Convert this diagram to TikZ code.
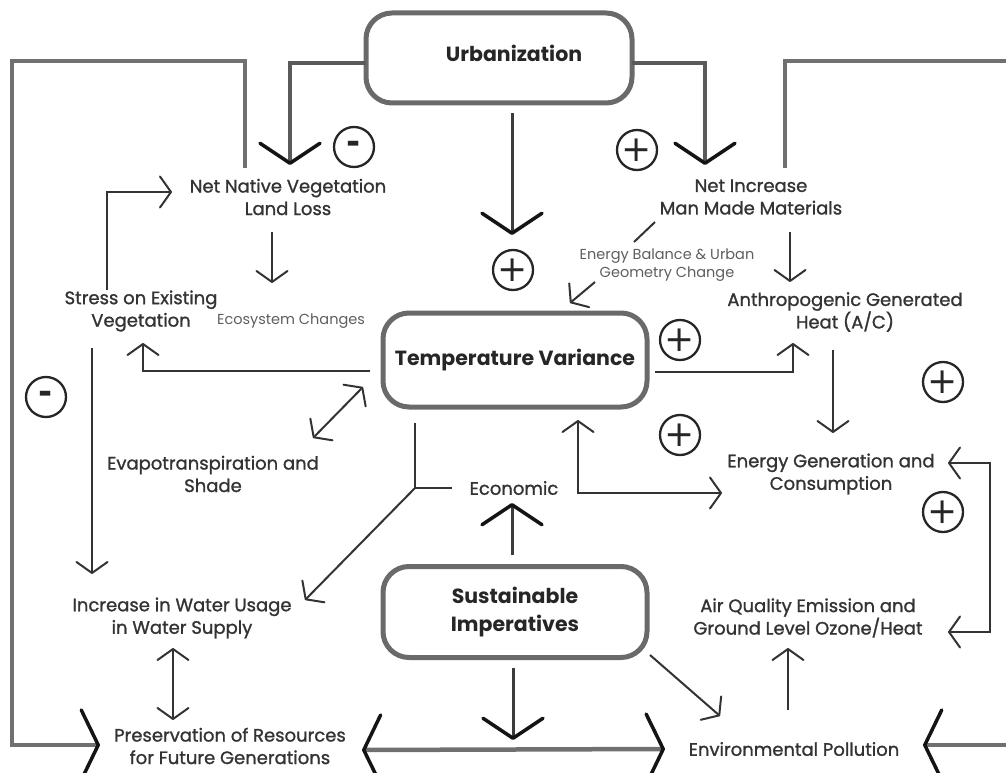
\documentclass[tikz,border=0pt]{standalone}
\usepackage{fontspec}
\setmainfont{Poppins}
\newfontfamily\bodyfont{Poppins}[FakeBold=1.2]
\newfontfamily\signfont{DejaVu Sans}
\usetikzlibrary{arrows.meta,calc}

\definecolor{ink}{HTML}{333333}
\definecolor{softink}{HTML}{5E5E5E}
\definecolor{boxgray}{HTML}{6A6A6A}
\definecolor{loopgray}{HTML}{707070}
\definecolor{urbgray}{HTML}{5A5A5A}
\definecolor{stemgray}{HTML}{3C3C3C}

\tikzset{
  bigV/.tip={Straight Barb[length=20pt,width=60pt,line width=3.5pt,round,color=black!92]},
  bigSide/.tip={Straight Barb[length=17pt,width=70pt,line width=3.5pt,round,color=black!92]},
  sV/.tip={Straight Barb[length=11pt,width=31pt,line width=2pt,round]},
  txt/.style={text=ink, font=\bodyfont\fontsize{18}{22.5}\selectfont, align=center, inner sep=0pt},
  small/.style={text=softink, font=\fontsize{14.5}{18}\selectfont, align=center, inner sep=0pt},
  hub/.style={draw=boxgray, line width=5pt, rounded corners=26pt, outer sep=0pt,
              font=\bfseries\fontsize{20.5}{28}\selectfont, text=black!85, align=center},
  sign/.style={circle, draw=black!85, line width=2.3pt, minimum size=40pt, inner sep=0pt,
               font=\signfont\fontsize{36}{36}\selectfont, text=black!85},
  negsign/.style={sign, font=\signfont\bfseries\fontsize{34}{34}\selectfont},
  loopline/.style={draw=loopgray, line width=4.5pt},
  urbline/.style={draw=urbgray, line width=3.5pt},
  stemline/.style={draw=stemgray, line width=3pt},
  flow/.style={draw=ink, line width=2pt},
}

\begin{document}
\begin{tikzpicture}[x=1pt, y=-1pt]
\useasboundingbox (0,0) rectangle (1006,773);
\clip (0,0) rectangle (1006,773);

% central hubs
\node[hub, minimum width=266pt, minimum height=90pt] (urb) at (499,58) {\hspace*{30pt}\raisebox{10pt}{Urbanization}};
\node[hub, minimum width=264pt, minimum height=94pt] (temp) at (515,360) {Temperature Variance};
\node[hub, minimum width=264pt, minimum height=91pt] (sust) at (515,612) {Sustainable\\Imperatives};

% factors
\node[txt] (nnv) at (288,197) {Net Native Vegetation\\Land Loss};
\node[txt] (nim) at (751,197) {Net Increase\\Man Made Materials};
\node[txt] (stress) at (141,311) {Stress on Existing\\Vegetation};
\node[small] (eco) at (291,321) {Ecosystem Changes};
\node[small] (ebal) at (667,265) {Energy Balance \& Urban\\Geometry Change};
\node[txt] (anth) at (845,312) {Anthropogenic Generated\\Heat (A/C)};
\node[txt] (evap) at (213,474) {Evapotranspiration and\\Shade};
\node[txt] (econ) at (514,488) {Economic};
\node[txt] (energy) at (831,474) {Energy Generation and\\Consumption};
\node[txt] (water) at (182,618) {Increase in Water Usage\\in Water Supply};
\node[txt] (air) at (808,618) {Air Quality Emission and\\Ground Level Ozone/Heat};
\node[txt] (pres) at (230,746) {Preservation of Resources\\for Future Generations};
\node[txt] (poll) at (794,749) {Environmental Pollution};

% polarity signs
\node[negsign] (m1) at (354,147) {-};
\node[negsign] (m2) at (46,397) {-};
\node[sign] (p1) at (513,270) {+};
\node[sign] (p2) at (637,150) {+};
\node[sign] (p3) at (680,340) {+};
\node[sign] (p4) at (680,435) {+};
\node[sign] (p5) at (943,382) {+};
\node[sign] (p6) at (943,512) {+};

% routing points
\coordinate (ltc) at (12,61);
\coordinate (rtc) at (1030,61);
\coordinate (rail) at (990,0);
\coordinate (jct) at ($(temp)+(-100,128)$);
\coordinate (eIn) at ($(energy)+(117,-11)$);
\coordinate (aIn) at ($(air)+(140,14)$);

% outer feedback loops and the base line
\draw[loopline, -bigSide] ($(nnv)+(-43,-29)$) |- (ltc) |- ($(pres)+(-130,-1)$);
\draw[loopline, -bigSide] ($(nim)+(34,-29)$) |- (rtc) |- ($(poll)+(129,-4)$);
\draw[loopline, bigSide-bigSide] ($(pres)+(132,4)$) -- ($(poll)+(-129,0)$);

% urbanization drivers
\draw[urbline, -bigV] ($(urb.west)+(0,5)$) -| ($(nnv)+(2,-32)$);
\draw[urbline, -bigV] ($(urb.east)+(0,5)$) -| ($(nim)+(-46,-32)$);
\draw[stemline, -bigV] ($(urb.south)+(13,10)$) -- ($(temp.north)+(-3,-78)$);

% sustainable imperatives
\draw[stemline, -bigV] ($(sust.north)+(-3,-12)$) -- ($(econ)+(-2,15)$);
\draw[stemline, -bigV] ($(sust.south)+(-2,10)$) -- ($(pres)+(283,-6)$);

% cause and effect links
\draw[flow, -sV] ($(stress)+(-34,-21)$) |- ($(nnv)+(-116,-5)$);
\draw[flow, -sV] ($(nnv)+(-16,35)$) -- ($(eco)+(-19,-38)$);
\draw[flow, -sV] ($(temp.west)+(-13,11)$) -| ($(stress)+(2,32)$);
\draw[flow, sV-sV] ($(temp)+(-152,27)$) -- ($(evap)+(100,-36)$);
\draw[flow] ($(temp)+(-100,63)$) -- (jct) -- ($(econ)+(-62,0)$);
\draw[flow, -sV] (jct) -- ($(water)+(123,-18)$);
\draw[flow, sV-sV] ($(temp.south)+(63,13)$) |- ($(energy)+(-109,19)$);
\draw[flow] ($(nim)+(-96,25)$) -- ($(ebal)+(-33,-23)$);
\draw[flow, -sV] ($(ebal)+(-72,17)$) -- ($(temp)+(55,-57)$);
\draw[flow, -sV] ($(nim)+(39,35)$) -- ($(anth)+(-55,-30)$);
\draw[flow, -sV] ($(temp.east)+(8,12)$) -| ($(anth)+(-52,31)$);
\draw[flow, -sV] ($(anth)+(-12,38)$) -- ($(energy)+(2,-41)$);
\draw[flow, sV-sV] (eIn) -- (eIn -| rail) |- (aIn);
\draw[flow, -sV] ($(poll)+(-6,-39)$) -- ($(air)+(-20,30)$);
\draw[flow, -sV] ($(sust)+(135,43)$) -- ($(poll)+(-74,-33)$);
\draw[flow, -sV] ($(stress)+(-49,37)$) -- ($(water)+(-90,-44)$);
\draw[flow, sV-sV] ($(water)+(-9,30)$) -- ($(pres)+(-57,-26)$);
\end{tikzpicture}
\end{document}
